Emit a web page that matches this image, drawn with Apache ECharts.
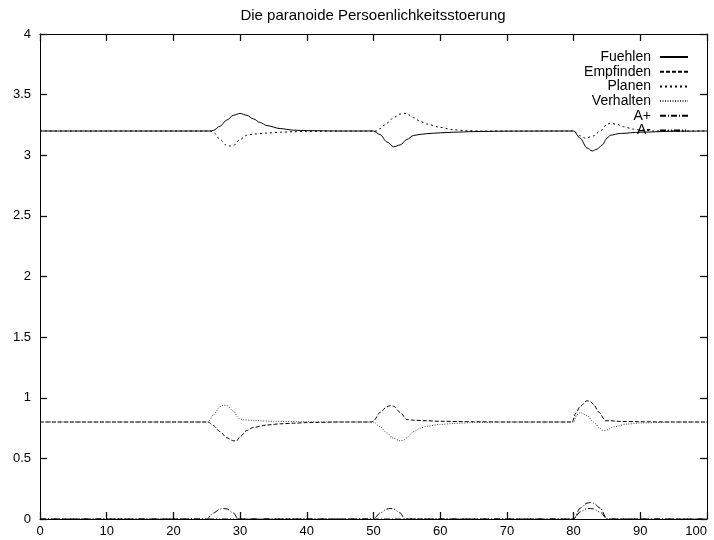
<!DOCTYPE html>
<html>
<head>
<meta charset="utf-8">
<script src="https://cdn.jsdelivr.net/npm/echarts@6/dist/echarts.min.js"></script>
<style>html,body{margin:0;padding:0;background:#fff}#c{width:714px;height:540px}</style>
</head>
<body>
<div id="c"></div>
<script>
const titleText = 'Die paranoide Persoenlichkeitsstoerung';
const seriesNames = ['Fuehlen', 'Empfinden', 'Planen', 'Verhalten', 'A+', 'A-'];
const xTicks = [0, 10, 20, 30, 40, 50, 60, 70, 80, 90, 100];
const yTicks = [0, 0.5, 1, 1.5, 2, 2.5, 3, 3.5, 4];

const fuehlen = [[0,3.2],[25.5,3.2],[26,3.205],[27,3.24],[28,3.29],[29,3.33],[30,3.345],[31,3.33],[32,3.3],[33,3.27],[34,3.245],[36,3.22],[38,3.207],[40,3.203],[45,3.2],[50,3.2],[51,3.17],[52,3.11],[53,3.07],[54,3.085],[55,3.13],[56,3.163],[57,3.172],[58,3.178],[60,3.185],[62,3.19],[65,3.195],[70,3.199],[80,3.2],[81,3.14],[82,3.06],[82.8,3.035],[83.5,3.05],[84.3,3.085],[85,3.14],[85.5,3.165],[87,3.18],[90,3.19],[95,3.198],[100,3.2]];
const empfinden = [[0,0.8],[25.2,0.8],[26,0.77],[27,0.72],[28,0.67],[29,0.645],[29.5,0.645],[30,0.68],[31,0.73],[32,0.755],[34,0.775],[36,0.785],[38,0.79],[40,0.795],[45,0.8],[49.7,0.8],[50,0.81],[51,0.88],[52,0.925],[52.5,0.934],[53,0.93],[54,0.88],[55,0.82],[56,0.815],[58,0.81],[60,0.806],[65,0.802],[70,0.8],[79.8,0.8],[80.3,0.87],[81,0.93],[82,0.975],[82.5,0.97],[83,0.945],[83.8,0.88],[84.8,0.81],[85.5,0.81],[87,0.805],[90,0.802],[95,0.8],[100,0.8]];
const planen = [[0,3.2],[25.5,3.2],[26,3.19],[27,3.13],[28,3.08],[28.5,3.076],[29,3.08],[30,3.13],[31,3.165],[32,3.175],[34,3.183],[36,3.19],[38,3.194],[40,3.196],[45,3.2],[50.5,3.2],[51,3.22],[52,3.265],[53,3.31],[54,3.34],[54.6,3.346],[55,3.343],[56,3.31],[57,3.28],[58,3.257],[60,3.23],[62,3.21],[64,3.203],[66,3.2],[80,3.2],[81,3.16],[81.8,3.14],[83,3.16],[84,3.2],[85,3.255],[85.5,3.265],[86.5,3.255],[87.5,3.235],[89,3.215],[90,3.208],[92,3.2],[100,3.2]];
const verhalten = [[0,0.8],[25.2,0.8],[26,0.86],[27,0.925],[27.5,0.94],[28,0.935],[29,0.89],[29.8,0.83],[30.5,0.818],[32,0.812],[35,0.806],[40,0.802],[45,0.8],[50,0.8],[51,0.76],[52,0.71],[53,0.665],[54,0.645],[54.5,0.65],[55,0.67],[56,0.72],[57,0.75],[58,0.765],[60,0.78],[62,0.788],[65,0.795],[70,0.8],[80,0.8],[80.5,0.86],[81,0.877],[82,0.855],[83,0.8],[84,0.745],[84.5,0.727],[85,0.735],[86,0.76],[88,0.783],[90,0.792],[95,0.799],[100,0.8]];
const aPlus = [[0,0],[25,0],[26,0.05],[27,0.082],[27.5,0.087],[28,0.083],[29,0.05],[29.7,0],[80,0],[81,0.09],[82,0.13],[82.5,0.136],[83,0.13],[84,0.09],[85,0],[100,0]];
const aMinus = [[0,0],[50,0],[51,0.05],[52,0.082],[52.5,0.087],[53,0.083],[54,0.05],[54.7,0],[80,0],[81,0.06],[82,0.085],[82.5,0.087],[83,0.083],[84,0.055],[85,0],[100,0]];

const seriesData = [fuehlen, empfinden, planen, verhalten, aPlus, aMinus];
const dashTypes = ['solid', [4,2], [2,3], [1,1.5], [6,2,1,2], [6,2,1,2,1,2]];
const lineColors = ['#000', '#000', '#000', '#444', '#000', '#000'];

const FONT = 'Liberation Sans, Arial, Helvetica, sans-serif';
const chart = echarts.init(document.getElementById('c'), null, {renderer: 'canvas'});

function xAxisDef(pos, showLabel) {
  return {
    type: 'value', position: pos, min: 0, max: 100, interval: 10,
    axisLine: {show: true, onZero: false, lineStyle: {color: '#000', width: 1}},
    axisTick: {show: true, inside: true, length: 7, lineStyle: {color: '#111', width: 1.3}},
    axisLabel: {show: showLabel, color: '#000', fontSize: 13, fontFamily: FONT, margin: 6, alignMaxLabel: 'right'},
    splitLine: {show: false}
  };
}
function yAxisDef(pos, showLabel) {
  return {
    type: 'value', position: pos, min: 0, max: 4, interval: 0.5,
    axisLine: {show: true, onZero: false, lineStyle: {color: '#000', width: 1}},
    axisTick: {show: true, inside: true, length: 7, lineStyle: {color: '#111', width: 1.3}},
    axisLabel: {show: showLabel, color: '#000', fontSize: 13, fontFamily: FONT, margin: 9},
    splitLine: {show: false}
  };
}

chart.setOption({
  animation: false,
  backgroundColor: '#fff',
  title: {
    text: titleText, left: 368, top: 3, textAlign: 'center',
    textStyle: {fontSize: 15, fontWeight: 'normal', color: '#000', fontFamily: FONT}
  },
  legend: {
    orient: 'vertical', right: 20, top: 45, align: 'right',
    itemWidth: 28, itemHeight: 14, itemGap: 0.7,
    itemStyle: {opacity: 0},
    textStyle: {fontSize: 14, color: '#000', fontFamily: FONT, padding: [0, 4, 0, 0]},
    data: seriesNames
  },
  grid: {left: 40, right: 7, top: 34, bottom: 21},
  xAxis: [xAxisDef('bottom', true), xAxisDef('top', false)],
  yAxis: [yAxisDef('left', true), yAxisDef('right', false)],
  series: seriesNames.map((n, i) => ({
    name: n, type: 'line', data: seriesData[i], symbol: 'none',
    smooth: 0.3, smoothMonotone: 'x', clip: true,
    lineStyle: {color: lineColors[i], width: 1, type: dashTypes[i]},
    itemStyle: {color: lineColors[i]}
  }))
});
</script>
</body>
</html>
